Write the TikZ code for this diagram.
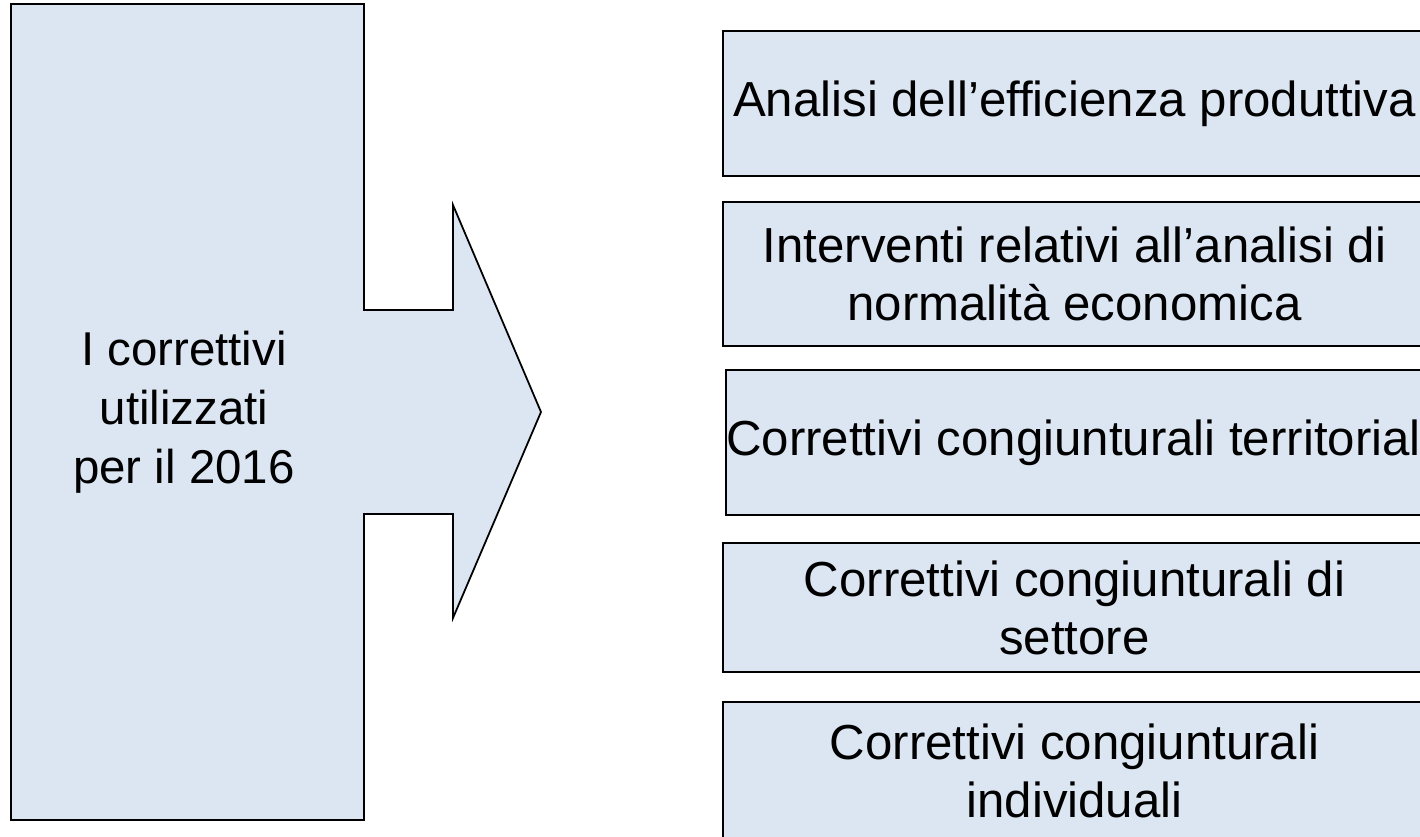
\documentclass[tikz,border=0pt]{standalone}
\usepackage{fontspec}
\setmainfont{Liberation Sans}
\usepackage{xcolor}
\usepackage{tikz}

\definecolor{boxblue}{HTML}{DCE6F2}

\tikzset{
    corrbox/.style={draw, line width=1pt, fill=boxblue, inner sep=0pt,
        minimum width=14.06cm, align=center,
        font=\fontsize{28}{33}\selectfont},
}

\begin{document}
\begin{tikzpicture}
        \useasboundingbox (0, 0) rectangle (28.4, -16.74);
        \clip (0, 0) rectangle (28.4, -16.74);
        % left block with the arrow
        \coordinate (TL) at (0.22, -0.08);
        \coordinate (TR) at (7.28, -0.08);
        \coordinate (BL) at (0.22, -16.4);
        \coordinate (BR) at (7.28, -16.4);
        \coordinate (Tip) at (10.82, -8.24);
        \draw[line width=1pt, fill=boxblue] (TL) -- (TR) -- (7.28, -6.2) -- (9.06, -6.2)
            -- (9.06, -4.1) -- (Tip) -- (9.06, -12.36) -- (9.06, -10.28)
            -- (7.28, -10.28) -- (BR) -- (BL) -- cycle;
        \node[align=center, font=\fontsize{27}{33.5}\selectfont] (used) at (3.68, -8.24)
            {I correttivi\\utilizzati\\per il 2016};
        % right column
        \node[corrbox, minimum height=2.9cm] (eff) at (21.49, -2.07)
            {Analisi dell’efficienza produttiva};
        \node[corrbox, minimum height=2.88cm] (norm) at (21.49, -5.48)
            {Interventi relativi all’analisi di\\normalità economica};
        \node[corrbox, minimum height=2.9cm, minimum width=14.12cm] (terr) at (21.58, -8.85)
            {Correttivi congiunturali territoriali};
        \node[corrbox, minimum height=2.58cm] (sett) at (21.49, -12.15)
            {Correttivi congiunturali di\\settore};
        \node[corrbox, minimum height=2.76cm] (indiv) at (21.49, -15.42)
            {Correttivi congiunturali\\individuali};
    \end{tikzpicture}
\end{document}
